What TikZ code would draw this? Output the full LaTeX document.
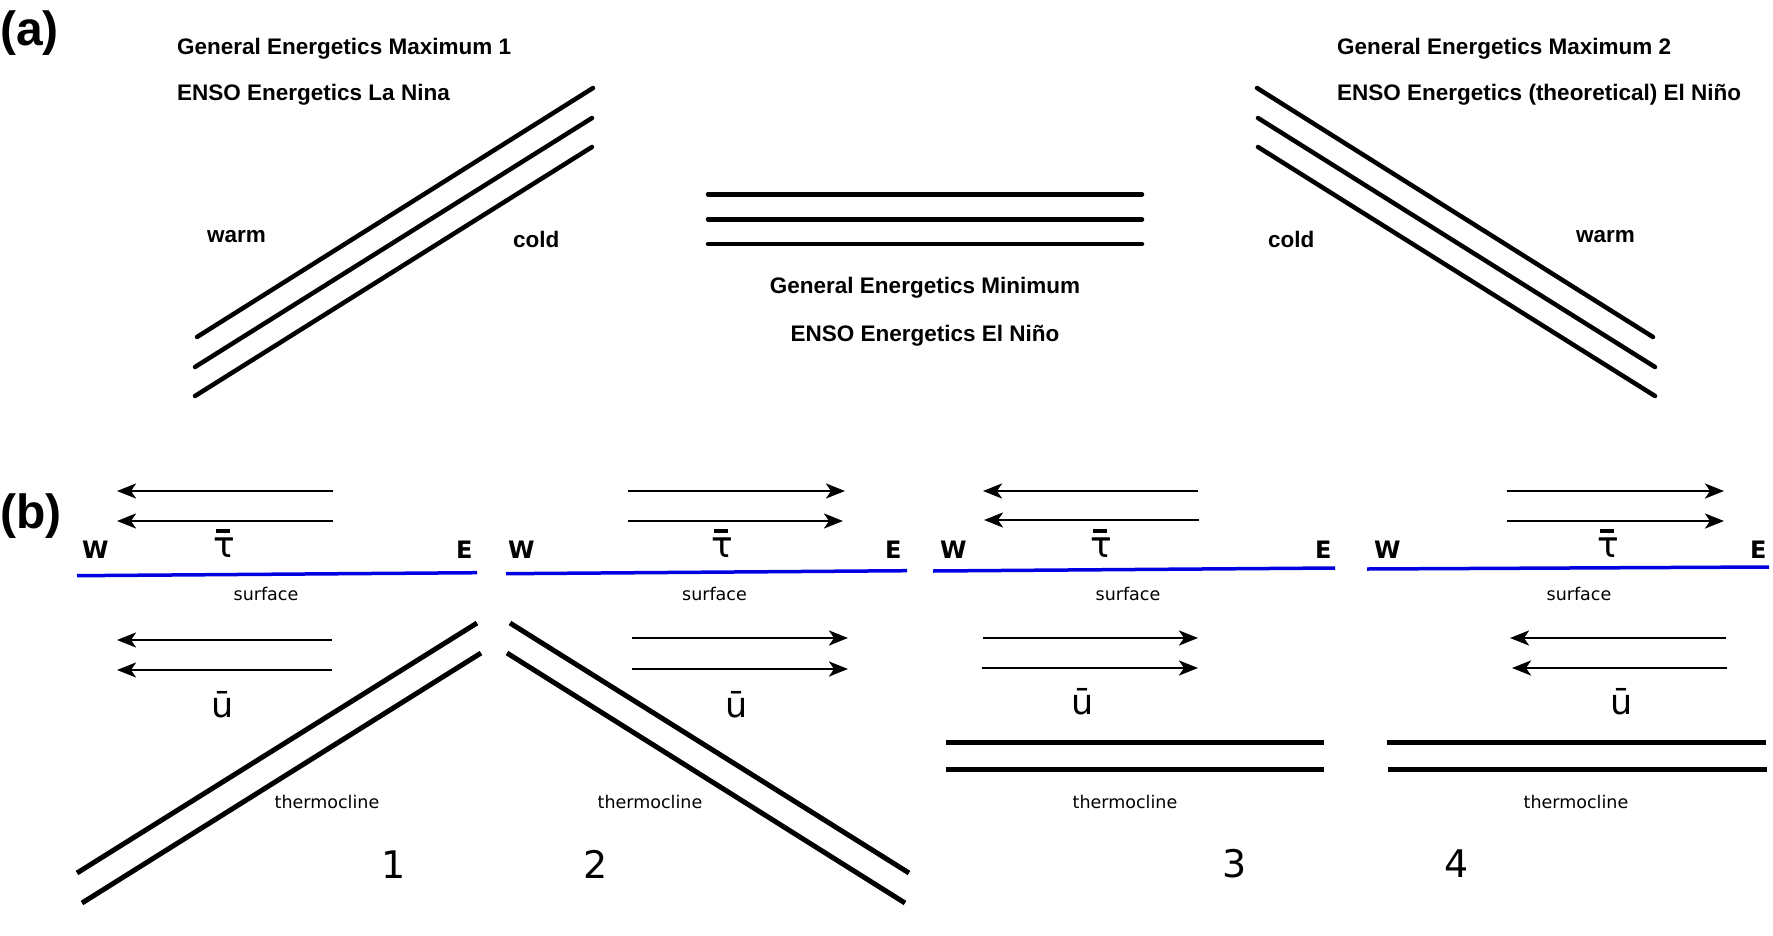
\documentclass[tikz,border=0pt]{standalone}
\usepackage{fontspec}
\setmainfont{Liberation Sans}
\newfontfamily\dvs{DejaVu Sans}
\usetikzlibrary{arrows.meta}
\definecolor{sblue}{RGB}{0,0,225}
\begin{document}
\begin{tikzpicture}[x=1pt,y=-1pt,
  layer/.style={line width=4.5pt,line cap=round},
  tcline/.style={line width=5pt},
  arr/.style={line width=2.7pt,-{Stealth[length=19pt,width=15pt,inset=5pt]}},
  sfc/.style={line width=3.5pt,draw=sblue},
  panel/.style={inner sep=0pt,font=\fontsize{48}{56}\selectfont\bfseries},
  hd/.style={inner sep=0pt,font=\fontsize{22.5}{27}\selectfont\bfseries},
  we/.style={inner sep=0pt,anchor=base west,font=\dvs\fontsize{24}{28}\selectfont\bfseries},
  small/.style={inner sep=0pt,anchor=base,font=\dvs\fontsize{17.5}{21}\selectfont},
  sym/.style={inner sep=0pt,anchor=base,font=\dvs\fontsize{35}{40}\selectfont},
  tau/.style={inner sep=0pt,anchor=base,font=\dvs\fontsize{36}{40}\selectfont},
  num/.style={inner sep=0pt,anchor=base,font=\dvs\fontsize{38}{44}\selectfont}
]
\useasboundingbox (0,0) rectangle (1773,935);

% ---------------- panel (a) ----------------
\node[panel,anchor=base west] (pa) at (0,45) {(a)};

\node[hd,anchor=base west] (g1) at (177,54) {General Energetics Maximum 1};
\node[hd,anchor=base west] (e1) at (177,100) {ENSO Energetics La Nina};
\node[hd,anchor=base west] (w1) at (207,242) {warm};
\node[hd,anchor=base west] (c1) at (513,247) {cold};
\draw[layer] (197,337) -- (593,88);
\draw[layer] (195,367) -- (592,118);
\draw[layer] (195,396) -- (592,147);

\draw[layer] (708,194.3) -- (1142,194.3);
\draw[layer] (708,219.3) -- (1142,219.3);
\draw[layer] (708,244) -- (1142,244);
\node[hd,anchor=base] (gmin) at (925,293) {General Energetics Minimum};
\node[hd,anchor=base] (emin) at (925,341) {ENSO Energetics El Niño};

\draw[layer] (1257,88) -- (1653,337);
\draw[layer] (1258,118) -- (1655,367);
\draw[layer] (1258,147) -- (1655,396);
\node[hd,anchor=base west] (g2) at (1337,54) {General Energetics Maximum 2};
\node[hd,anchor=base west] (e2) at (1337,100) {ENSO Energetics (theoretical) El Niño};
\node[hd,anchor=base west] (c2) at (1268,247) {cold};
\node[hd,anchor=base west] (w2) at (1576,242) {warm};

% ---------------- panel (b) ----------------
\node[panel,anchor=base west] (pb) at (0,528) {(b)};

% panel 1
\draw[arr] (333,491) -- (117,491);
\draw[arr] (333,521) -- (117,521);
\node[tau] (t1) at (224,557) {τ};
\fill (216,529) rectangle (230,533);
\node[we] (W1) at (82,558) {W};
\node[we] (E1) at (456,558) {E};
\draw[sfc] (77,575.7) -- (477,572.7);
\node[small] (s1) at (266,600) {surface};
\draw[arr] (332,640) -- (117,640);
\draw[arr] (332,670) -- (117,670);
\node[sym] (u1) at (223,717) {ū};
\draw[tcline] (77,873) -- (477,623);
\draw[tcline] (82,903) -- (481,653);
\node[small] (th1) at (327,808) {thermocline};
\node[num] (n1) at (394,878) {1};

% panel 2
\draw[arr] (628,491) -- (845,491);
\draw[arr] (628,521) -- (843,521);
\node[tau] (t2) at (722,557) {τ};
\fill (714,529) rectangle (728,533);
\node[we] (W2) at (508,558) {W};
\node[we] (E2) at (885,558) {E};
\draw[sfc] (506,573.7) -- (907,570.7);
\node[small] (s2) at (714.5,600) {surface};
\draw[arr] (632,638) -- (848,638);
\draw[arr] (632,669) -- (848,669);
\node[sym] (u2) at (737,717) {ū};
\draw[tcline] (510,623) -- (909,873);
\draw[tcline] (507,653) -- (905,903);
\node[small] (th2) at (650,808) {thermocline};
\node[num] (n2) at (596,878) {2};

% panel 3
\draw[arr] (1198,491) -- (983,491);
\draw[arr] (1199,520) -- (984,520);
\node[tau] (t3) at (1101,557) {τ};
\fill (1093,529) rectangle (1107,533);
\node[we] (W3) at (940,558) {W};
\node[we] (E3) at (1315,558) {E};
\draw[sfc] (933,571) -- (1335,568);
\node[small] (s3) at (1128,600) {surface};
\draw[arr] (983,638) -- (1198,638);
\draw[arr] (982,668) -- (1198,668);
\node[sym] (u3) at (1083,714) {ū};
\draw[tcline] (946,742) -- (1324,742);
\draw[tcline] (946,769) -- (1324,769);
\node[small] (th3) at (1125,808) {thermocline};
\node[num] (n3) at (1235,877) {3};

% panel 4
\draw[arr] (1507,491) -- (1724,491);
\draw[arr] (1507,521) -- (1724,521);
\node[tau] (t4) at (1608,557) {τ};
\fill (1600,529) rectangle (1614,533);
\node[we] (W4) at (1374,558) {W};
\node[we] (E4) at (1750,558) {E};
\draw[sfc] (1367,569) -- (1769,567);
\node[small] (s4) at (1579,600) {surface};
\draw[arr] (1726,638) -- (1510,638);
\draw[arr] (1727,668) -- (1512,668);
\node[sym] (u4) at (1622,714) {ū};
\draw[tcline] (1387,742) -- (1766,742);
\draw[tcline] (1388,769) -- (1767,769);
\node[small] (th4) at (1576,808) {thermocline};
\node[num] (n4) at (1457,877) {4};
\end{tikzpicture}
\end{document}
